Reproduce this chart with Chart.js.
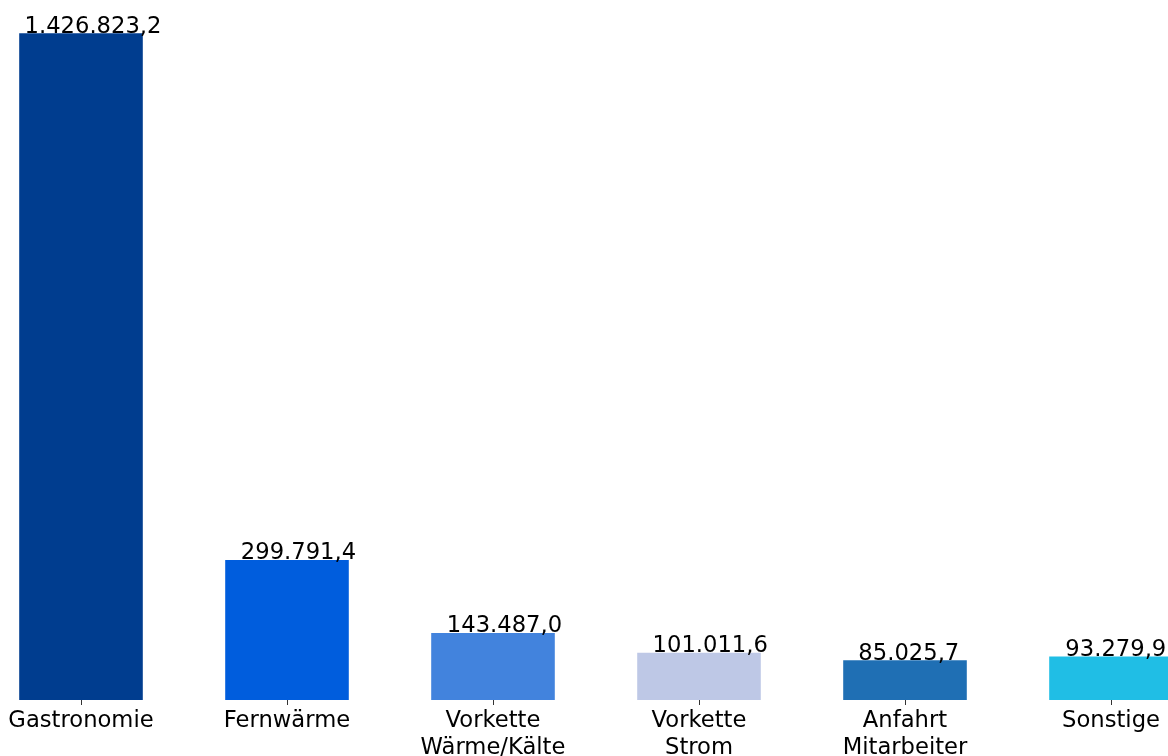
<!DOCTYPE html>
<html>
<head>
<meta charset="utf-8">
<script src="https://cdn.jsdelivr.net/npm/chart.js@4"></script>
<style>
  html, body { margin: 0; padding: 0; background: #fff; overflow: hidden; }
  #box { width: 1168px; height: 756px; position: relative; }
</style>
</head>
<body>
<div id="box"><canvas id="chartOne"></canvas></div>
<script>
/* categories and values */
const categories = [
    'Gastronomie',
    'Fernwärme',
    ['Vorkette', 'Wärme/Kälte'],
    ['Vorkette', 'Strom'],
    ['Anfahrt', 'Mitarbeiter'],
    'Sonstige'
];
const values = [1426823.2, 299791.4, 143487.0, 101011.6, 85025.7, 93279.9];
const barColors = ['#003d8f', '#005ddd', '#4283dd', '#bec8e6', '#1f6fb4', '#20bee5'];

// the value texts sit a bit right of the bar centre (px), not all by the same amount
const labelShift = [12, 11.5, 11.5, 11.2, 3.8, 4.8];

// 1.234.567,8 style numbers
function formatDe(v) {
    const parts = v.toFixed(1).split('.');
    const whole = parts[0].replace(/\B(?=(\d{3})+(?!\d))/g, '.');
    return whole + ',' + parts[1];
}

const valueLabels = {
    id: 'valueLabels',
    afterDatasetsDraw(chart) {
        const ctx = chart.ctx;
        const meta = chart.getDatasetMeta(0);
        ctx.save();
        ctx.font = '22.67px "DejaVu Sans"';
        ctx.fillStyle = '#000';
        ctx.textAlign = 'center';
        ctx.textBaseline = 'alphabetic';
        meta.data.forEach((bar, i) => {
            ctx.fillText(formatDe(values[i]), bar.x + labelShift[i], bar.y - 0.5);
        });
        ctx.restore();
    }
};

const chart1 = document.getElementById('chartOne').getContext('2d');
const myChart = new Chart(chart1, {
    type: 'bar',
    data: {
        datasets: [{
            data: values.map((v, i) => ({ x: i, y: v })),
            backgroundColor: barColors,
            borderWidth: 0,
            barPercentage: 0.6,
            categoryPercentage: 1.0
        }]
    },
    options: {
        responsive: true,
        maintainAspectRatio: false,
        animation: false,
        layout: { padding: 0 },
        plugins: {
            legend: { display: false },
            tooltip: { enabled: false }
        },
        scales: {
            x: {
                type: 'linear',
                offset: false,
                min: -0.3 - 19.2 / 206,
                max: -0.3 - 19.2 / 206 + 1168 / 206,
                afterBuildTicks: (scale) => {
                    scale.ticks = categories.map((c, i) => ({ value: i }));
                },
                afterFit: (scale) => { scale.height = 56; },
                border: { display: false },
                grid: {
                    offset: false,
                    drawOnChartArea: false,
                    drawTicks: true,
                    tickLength: 5,
                    tickColor: '#333',
                    tickWidth: 1
                },
                ticks: {
                    autoSkip: false,
                    maxRotation: 0,
                    padding: 3,
                    color: '#000',
                    font: { family: 'DejaVu Sans', size: 22.67, lineHeight: 1.17 },
                    callback: (v) => categories[v]
                }
            },
            y: {
                display: false,
                min: 0,
                max: Math.max(...values) * 1.05
            }
        }
    },
    plugins: [valueLabels]
});
</script>
</body>
</html>
